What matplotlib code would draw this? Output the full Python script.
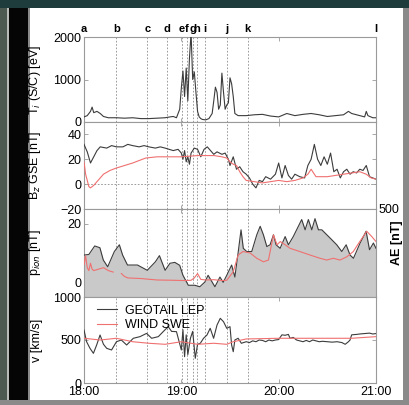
import numpy as np
import matplotlib
matplotlib.use("Agg")
import matplotlib.pyplot as plt
from matplotlib.patches import Rectangle
from matplotlib.transforms import blended_transform_factory

plt.rcParams['font.family'] = ['Liberation Sans', 'DejaVu Sans']
plt.rcParams['font.size'] = 9

# event markers (minutes after 18:00)
event_names = ['a', 'b', 'c', 'd', 'e', 'f', 'g', 'h', 'i', 'j', 'k', 'l']
event_min = [0, 20, 39, 51, 60.3, 63.2, 67, 69.6, 74.3, 88.3, 101, 180]

# ion temperature (GEOTAIL)
ti_t = [0, 2, 4, 5, 6, 8, 10, 12, 15, 20,
        25, 30, 35, 40, 45, 50, 53, 55, 57, 58,
        59, 60, 61, 62, 63, 64, 65, 66, 67, 68,
        69, 70, 71, 72, 73, 75, 77, 79, 80, 81,
        82, 83, 84, 85, 86, 87, 88, 89, 90, 91,
        92, 93, 95, 98, 100, 105, 110, 115, 120, 125,
        130, 135, 140, 145, 150, 155, 160, 163, 165, 170,
        173, 174, 175, 178, 180]
ti_geo = [120, 150, 250, 350, 220, 250, 200, 130, 100, 100,
          90, 100, 80, 80, 90, 100, 120, 130, 100, 200,
          300, 800, 1200, 600, 1270, 500, 1500, 2100, 1000, 1180,
          700, 250, 120, 80, 60, 50, 80, 200, 500, 820,
          700, 300, 400, 1150, 700, 300, 400, 450, 1040, 900,
          600, 200, 150, 150, 150, 170, 180, 140, 120, 200,
          150, 180, 200, 170, 130, 150, 170, 250, 200, 150,
          120, 250, 150, 100, 100]

# Bz GSE
bz_t = [0, 2, 4, 6, 8, 10, 14, 17, 20, 24,
        27, 30, 34, 37, 40, 44, 47, 50, 55, 58,
        60, 61, 62, 63, 64, 65, 66, 68, 70, 72,
        74, 76, 78, 80, 82, 85, 87, 89, 90, 92,
        94, 96, 98, 100, 102, 104, 106, 108, 110, 112,
        115, 118, 120, 122, 124, 126, 128, 130, 133, 136,
        138, 140, 142, 144, 146, 148, 150, 152, 154, 156,
        158, 160, 162, 164, 166, 168, 170, 172, 174, 176,
        178, 180]
bz_geo = [32, 26, 17, 22, 27, 30, 29, 31, 30, 30,
          32, 31, 30, 31, 30, 29, 30, 29, 27, 28,
          25, 20, 27, 18, 22, 16, 25, 29, 28, 22,
          28, 30, 27, 24, 26, 24, 25, 20, 15, 22,
          12, 14, 10, 8, 5, 0, -3, 3, 2, 6,
          4, 8, 17, 5, 15, 7, 4, 8, 6, 5,
          15, 20, 32, 20, 15, 22, 16, 25, 10, 12,
          5, 10, 12, 8, 10, 9, 12, 11, 15, 6,
          5, 4]
bzw_t = [0, 1, 3, 4, 6, 8, 12, 16, 20, 25,
         30, 38, 45, 50, 60, 70, 80, 85, 88, 90,
         92, 94, 96, 98, 100, 105, 110, 115, 120, 125,
         130, 135, 138, 140, 143, 146, 150, 155, 160, 165,
         170, 174, 177, 180]
bz_wind = [18, 8, -2, -3, -1, 2, 8, 11, 13, 15,
           17, 21, 22, 22, 22, 23, 23, 22, 21, 18,
           16, 15, 10, 6, 3, 2, 1, 2, 3, 2,
           3, 5, 8, 12, 6, 6, 6, 7, 8, 9,
           10, 8, 5, 4]

# ion pressure
p_t = [0, 3, 6.6, 9.8, 11.9, 14.6, 18.7, 21.8, 23.8, 26.8,
       33, 39, 44, 46.5, 50, 53, 56, 59, 61, 64.3,
       68.3, 71.4, 74.5, 76.5, 80.7, 83.8, 85.8, 88, 91, 93,
       95.1, 96.8, 98.2, 100.3, 103.4, 106.5, 108.6, 110.6, 112.7, 114.7,
       116.8, 118.4, 120.9, 124, 126, 129, 134.2, 136.3, 138.3, 140.4,
       142.4, 144.5, 146.6, 151.7, 155.8, 158.9, 161.6, 164, 166.1, 170.2,
       173.9, 176, 178.4, 180]
p_geo = [9.3, 9.5, 12.4, 11.8, 7.6, 5.3, 10.5, 12.8, 9.3, 5.9,
         5.9, 4.1, 7.0, 9.1, 4.1, 6.5, 6.8, 5.8, 2.4, -1,
         -1, -1.5, 0.1, 2.4, -1.5, 1.8, 0, 2.4, 5.9, 1.8,
         10.5, 17.9, 11.6, 10.5, 10.5, 16.2, 19.1, 16.2, 12.2, 12.8,
         16.2, 12.8, 11.6, 15.6, 12.8, 15.6, 21.4, 17.9, 21.4, 17.9,
         21.7, 17.9, 17.9, 15.1, 12.8, 10.5, 12.8, 9.3, 8.2, 13.4,
         17.4, 11.1, 13.4, 11.6]
pw_t = [0, 1, 2, 3, 4, 5, 6, 9, 12, 15,
        18, 20.5, 23, 25, 27, 35, 45, 55, 62, 66,
        68, 70, 72, 75, 80, 85, 88, 92, 95, 98,
        102.4, 106.5, 110.6, 113.7, 116.8, 119, 121, 124, 127, 133,
        139.4, 145.5, 149.6, 153.7, 157.8, 162, 166, 170, 174.3, 177.4,
        180]
p_wind = [6, 9, 5, 4, 6.5, 4.5, 4, 4.5, 5, 4,
          3.5, np.nan, 3, 2, 1.5, 1.3, 0.8, 0.7, 0.6, 0.7,
          1.5, 3, 1.0, 0.8, 0.9, 0.6, 0.7, 3.6, 9.3, 10.5,
          10, 8.2, 7, 7.6, 16.2, 12.8, 13.9, 12.8, 11.6, 10.5,
          9.3, 8.2, 7.6, 8.2, 7.6, 8.7, 10.5, 13.9, 17.4, 15.6,
          13.9]

# flow speed
v_t = [0, 1.6, 3.7, 5.8, 7.8, 9.9, 12, 14, 17, 20,
       23, 26.3, 30.4, 34.5, 38.6, 41.7, 45.8, 48.8, 51.9, 54,
       57, 60, 61, 62, 63, 64, 65.6, 67, 68.6, 70,
       71.7, 73.7, 75.8, 77.8, 79.9, 82, 84, 86, 88, 90,
       91, 92, 93, 95, 97, 100, 102, 104, 106, 108,
       110, 112, 114, 116, 118, 120, 122, 124, 126, 127,
       129, 131, 133, 135, 137, 139, 141, 143, 145, 147,
       150, 153, 156, 159, 161, 163, 164, 165, 168, 170,
       173, 176, 178, 180]
v_geo = [616, 480, 403, 345, 442, 558, 450, 403, 384, 480,
         500, 442, 520, 539, 577, 520, 539, 597, 655, 600,
         597, 384, 620, 306, 560, 330, 520, 600, 287, 450,
         462, 520, 558, 636, 520, 674, 752, 713, 636, 655,
         442, 364, 500, 520, 462, 480, 470, 490, 480, 500,
         495, 480, 500, 490, 500, 505, 560, 555, 565, 520,
         530, 500, 490, 480, 495, 480, 500, 490, 480, 485,
         480, 475, 480, 470, 450, 480, 500, 560, 565, 570,
         575, 580, 570, 575]
vw_t = [0, 10, 20, 30, 40, 50, 60, 70, 80, 88, 92, 100, 120, 145, 165, 180]
v_wind = [520, 500, 520, 480, 462, 450, 480, 450, 462, 450, 480, 512, 520, 520, 520, 539]

W, H = 409, 405
fig = plt.figure(figsize=(W / 100, H / 100), dpi=100)
fig.patch.set_facecolor('white')

# screenshot frame
def frame_rect(x0, y0, x1, y1, c):
    fig.add_artist(Rectangle((x0 / W, 1 - y1 / H), (x1 - x0) / W, (y1 - y0) / H,
                             transform=fig.transFigure, color=c, lw=0, zorder=-5))

frame_rect(0, 0, W, 8, '#1f3c3d')
frame_rect(0, 8, 7, H, '#4d5a52')
frame_rect(7, 8, 9, H, '#b8bcb8')
frame_rect(9, 8, 28, H, '#050505')
frame_rect(28, 8, 30, H, '#8a8a8a')
frame_rect(403, 8, W, H, '#8a8a8a')
frame_rect(0, 400, W, H, '#8a8a8a')

GEO = '#3c3c3c'
RED = '#f07070'
SPINE = '#9a9a9a'

edges = [37, 122, 209, 297, 383]
x0, x1 = 84, 376
axes = []
for k in range(4):
    ax = fig.add_axes([x0 / W, 1 - edges[k + 1] / H, (x1 - x0) / W, (edges[k + 1] - edges[k]) / H])
    ax.set_xlim(0, 180)
    for s in ax.spines.values():
        s.set_color(SPINE)
        s.set_linewidth(0.8)
    ax.tick_params(direction='in', length=3, width=0.6, color=SPINE, top=True, right=True,
                   labelsize=9, pad=2)
    ax.set_xticks([0, 60, 120, 180])
    if k < 3:
        ax.set_xticklabels([])
    else:
        ax.set_xticklabels(['18:00', '19:00', '20:00', '21:00'])
    for m in event_min:
        ax.axvline(m, color='#8c8c8c', lw=0.6, ls=(0, (2, 2)), zorder=1)
    axes.append(ax)

ax1, ax2, ax3, ax4 = axes

ax1.plot(ti_t, ti_geo, color=GEO, lw=0.8, zorder=3)
ax1.set_ylim(0, 2000)
ax1.set_yticks([0, 1000, 2000])
ax1.set_ylabel('T$_i$ (S/C) [eV]')
tr = blended_transform_factory(ax1.transData, ax1.transAxes)
for name, m in zip(event_names, event_min):
    ax1.text(m, 1.03, name, transform=tr, ha='center', va='bottom',
             fontsize=8, fontweight='bold')

ax2.plot(bz_t, bz_geo, color=GEO, lw=0.8, zorder=3)
ax2.plot(bzw_t, bz_wind, color=RED, lw=0.8, zorder=3)
ax2.axhline(0, color='#8c8c8c', lw=0.6, ls=(0, (2, 2)), zorder=1)
ax2.set_ylim(-20, 50)
ax2.set_yticks([-20, 0, 20, 40])
ax2.set_ylabel('B$_z$ GSE [nT]')

ax3.fill_between(p_t, p_geo, -5, color='#c9c9c9', lw=0, zorder=2)
ax3.plot(p_t, p_geo, color=GEO, lw=0.8, zorder=3)
ax3.plot(pw_t, p_wind, color=RED, lw=0.8, zorder=4)
ax3.set_ylim(-5, 25)
ax3.set_yticks([0, 20])
ax3.set_ylabel('p$_{ion}$ [nT]')
ax3b = ax3.twinx()
ax3b.set_ylim(-100, 500)
ax3b.set_yticks([500])
ax3b.tick_params(length=0, labelsize=9, pad=2)
ax3b.set_ylabel('AE [nT]', fontweight='bold')
ax3b.yaxis.set_label_coords(1.05, 0.62)
for s in ax3b.spines.values():
    s.set_visible(False)

ax4.plot(v_t, v_geo, color=GEO, lw=0.8, zorder=3, label='GEOTAIL LEP')
ax4.plot(vw_t, v_wind, color=RED, lw=0.8, zorder=3, label='WIND SWE')
ax4.set_ylim(0, 1000)
ax4.set_yticks([0, 500, 1000])
ax4.set_ylabel('v [km/s]')
ax4.legend(loc='upper left', frameon=False, fontsize=9, handlelength=1.6,
           handletextpad=0.6, borderaxespad=0.2, labelspacing=0.2,
           bbox_to_anchor=(0.02, 1.0))

for ax in axes:
    ax.yaxis.set_label_coords(-0.14, 0.5)

fig.savefig('out.png', dpi=100)
